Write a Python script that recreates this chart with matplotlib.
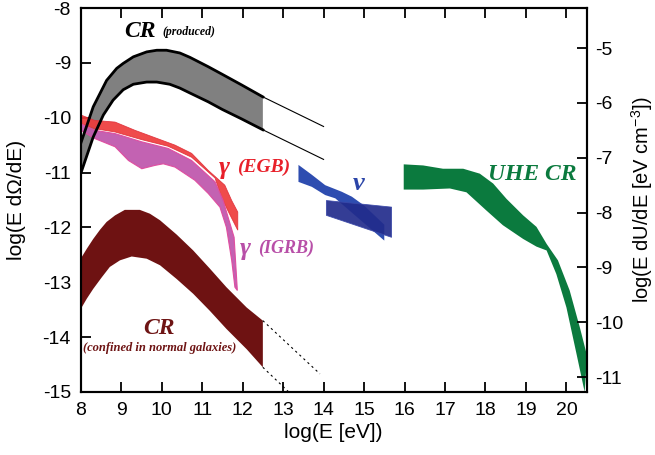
import numpy as np
import matplotlib
matplotlib.use("Agg")
import matplotlib.pyplot as plt

plt.rcParams['font.family'] = ['Liberation Sans', 'DejaVu Sans']
plt.rcParams['mathtext.fontset'] = 'custom'
plt.rcParams['mathtext.rm'] = 'Liberation Sans'
plt.rcParams['mathtext.it'] = 'Liberation Sans:italic'
plt.rcParams['axes.unicode_minus'] = False

# offset between left axis (log E dOmega/dE) and right axis (log E dU/dE)
RIGHT_OFFSET = 3.73

# CR produced (grey band)
cr_prod_up_x = [8.0, 8.31, 8.64, 8.89, 9.05, 9.30, 9.63, 9.88, 10.12, 10.45, 10.70, 11.15, 11.5, 11.97, 12.5]
cr_prod_up_y = [-10.47, -9.80, -9.32, -9.10, -9.01, -8.89, -8.80, -8.77, -8.77, -8.82, -8.90, -9.07, -9.21, -9.40, -9.62]
cr_prod_lo_x = [8.0, 8.31, 8.56, 8.80, 9.05, 9.30, 9.63, 9.88, 10.20, 10.45, 10.70, 11.15, 11.5, 11.97, 12.5]
cr_prod_lo_y = [-11.02, -10.35, -9.95, -9.68, -9.49, -9.39, -9.35, -9.35, -9.39, -9.46, -9.55, -9.71, -9.85, -10.02, -10.22]
cr_prod_ext_x = [12.5, 14.0]
cr_prod_ext_up = [-9.62, -10.16]
cr_prod_ext_lo = [-10.22, -10.76]

# gamma EGB (red band)
egb_up_x = [8.0, 8.35, 8.85, 9.34, 10.0, 10.33, 10.74, 11.15, 11.56, 11.73, 11.88]
egb_up_y = [-9.95, -10.05, -10.08, -10.23, -10.41, -10.50, -10.65, -10.96, -11.23, -11.51, -11.72]
egb_lo_x = [8.0, 8.35, 8.85, 9.51, 10.16, 10.74, 11.32, 11.48, 11.64, 11.88]
egb_lo_y = [-10.11, -10.20, -10.26, -10.40, -10.52, -10.72, -11.10, -11.45, -11.70, -12.05]

# gamma IGRB (magenta band)
igrb_up_x = [8.0, 8.35, 8.85, 9.51, 10.16, 10.74, 11.32, 11.52, 11.64, 11.79, 11.87]
igrb_up_y = [-10.11, -10.23, -10.29, -10.44, -10.56, -10.78, -11.17, -11.51, -11.81, -12.18, -13.15]
igrb_lo_x = [8.0, 8.35, 8.85, 9.18, 9.51, 9.83, 10.04, 10.33, 10.82, 11.15, 11.44, 11.60, 11.73, 11.81]
igrb_lo_y = [-10.23, -10.38, -10.53, -10.78, -10.93, -10.87, -10.84, -10.90, -11.14, -11.38, -11.63, -12.0, -12.60, -13.09]

# CR confined in normal galaxies (maroon band)
cr_conf_up_x = [8.0, 8.15, 8.31, 8.48, 8.64, 8.85, 9.09, 9.46, 9.71, 9.96, 10.37, 10.78, 11.19, 11.60, 12.10, 12.5]
cr_conf_up_y = [-12.57, -12.39, -12.21, -12.04, -11.90, -11.78, -11.68, -11.68, -11.75, -11.87, -12.13, -12.42, -12.75, -13.09, -13.46, -13.70]
cr_conf_lo_x = [8.0, 8.15, 8.31, 8.52, 8.72, 8.97, 9.26, 9.63, 9.96, 10.37, 10.78, 11.19, 11.60, 12.10, 12.5]
cr_conf_lo_y = [-13.49, -13.30, -13.12, -12.91, -12.72, -12.60, -12.53, -12.57, -12.69, -12.94, -13.21, -13.52, -13.85, -14.22, -14.55]
cr_conf_ext_up_x = [12.5, 13.91]
cr_conf_ext_up_y = [-13.70, -14.67]
cr_conf_ext_lo_x = [12.5, 13.14]
cr_conf_ext_lo_y = [-14.55, -15.0]

# neutrinos
nu_band_x = [13.38, 13.71, 14.04, 14.45, 14.70, 15.0, 15.5, 15.5, 14.29, 14.04, 13.71, 13.38]
nu_band_y = [-10.86, -11.04, -11.23, -11.35, -11.44, -11.60, -11.95, -12.24, -11.47, -11.41, -11.26, -11.17]
nu_box_x = [14.07, 15.68, 15.68, 14.07]
nu_box_y = [-11.51, -11.63, -12.18, -11.78]

# UHE CR (green band)
uhe_up_x = [15.98, 16.46, 16.95, 17.45, 17.86, 18.19, 18.52, 18.93, 19.26, 19.51, 19.79, 20.08, 20.33, 20.51]
uhe_up_y = [-10.85, -10.87, -10.93, -10.93, -11.02, -11.20, -11.48, -11.78, -11.99, -12.30, -12.60, -13.15, -13.82, -14.34]
uhe_lo_x = [15.98, 16.46, 17.12, 17.53, 18.02, 18.43, 18.93, 19.26, 19.51, 19.75, 20.0, 20.25, 20.45]
uhe_lo_y = [-11.31, -11.31, -11.29, -11.36, -11.69, -11.96, -12.21, -12.35, -12.42, -12.85, -13.46, -14.31, -15.0]

x_ticks = list(range(8, 21))
left_ticks = list(range(-15, -7))
right_ticks = list(range(-11, -4))


def band(ax, xu, yu, xl, yl, **kw):
    xs = np.concatenate([xu, xl[::-1]])
    ys = np.concatenate([yu, yl[::-1]])
    return ax.fill(xs, ys, **kw)


fig = plt.figure(figsize=(6.55, 4.55), dpi=100)
ax = fig.add_axes([0.1232, 0.1385, 0.7725, 0.8439])

band(ax, cr_prod_up_x, cr_prod_up_y, cr_prod_lo_x, cr_prod_lo_y,
     facecolor='#808080', edgecolor='none', zorder=1)
ax.plot(cr_prod_up_x, cr_prod_up_y, color='black', lw=2, zorder=4, solid_joinstyle='round')
ax.plot(cr_prod_lo_x, cr_prod_lo_y, color='black', lw=2, zorder=4, solid_joinstyle='round')
ax.plot(cr_prod_ext_x, cr_prod_ext_up, color='black', lw=0.8, zorder=4)
ax.plot(cr_prod_ext_x, cr_prod_ext_lo, color='black', lw=0.8, zorder=4)

band(ax, egb_up_x, egb_up_y, egb_lo_x, egb_lo_y,
     facecolor='#EE3B3B', edgecolor='#E0303A', lw=0.6, alpha=0.92, zorder=2)
band(ax, igrb_up_x, igrb_up_y, igrb_lo_x, igrb_lo_y,
     facecolor='#C05AAE', edgecolor='#E04A9E', lw=0.8, alpha=0.95, zorder=3)

band(ax, cr_conf_up_x, cr_conf_up_y, cr_conf_lo_x, cr_conf_lo_y,
     facecolor='#6E1212', edgecolor='none', zorder=2)
ax.plot(cr_conf_ext_up_x, cr_conf_ext_up_y, color='black', lw=0.8, ls=(0, (2, 3)), zorder=2)
ax.plot(cr_conf_ext_lo_x, cr_conf_ext_lo_y, color='black', lw=0.8, ls=(0, (2, 3)), zorder=2)

ax.fill(nu_band_x, nu_band_y, facecolor='#2E4DB0', edgecolor='none', zorder=2)
ax.fill(nu_box_x, nu_box_y, facecolor='#222C8C', edgecolor='#3A48A8', lw=0.6, alpha=0.92, zorder=3)

band(ax, uhe_up_x, uhe_up_y, uhe_lo_x, uhe_lo_y,
     facecolor='#0B7A3E', edgecolor='none', zorder=2)

lab = dict(family=['Liberation Serif', 'DejaVu Serif'], weight='bold', style='italic')
ax.text(9.46, -8.52, 'CR', color='black', fontsize=17, ha='center', va='baseline', **lab)
ax.text(10.03, -8.5, '(produced)', color='black', fontsize=8.5, ha='left', va='baseline', **lab)
ax.text(11.42, -11.02, 'γ', color='#E8202A', fontsize=19, ha='left', va='baseline', **lab)
ax.text(11.86, -10.98, '(EGB)', color='#E8202A', fontsize=14, ha='left', va='baseline', **lab)
ax.text(11.94, -12.5, 'γ', color='#B84FA8', fontsize=19, ha='left', va='baseline', **lab)
ax.text(12.38, -12.46, '(IGRB)', color='#B84FA8', fontsize=13, ha='left', va='baseline', **lab)
ax.text(14.87, -11.32, 'ν', color='#2B45A8', fontsize=19, ha='center', va='baseline', **lab)
ax.text(18.06, -11.14, 'UHE CR', color='#0B7A3E', fontsize=17, ha='left', va='baseline', **lab)
ax.text(9.94, -13.94, 'CR', color='#6E1414', fontsize=17, ha='center', va='baseline', **lab)
ax.text(9.94, -14.25, '(confined in normal galaxies)', color='#6E1414', fontsize=9,
        ha='center', va='baseline', **lab)

ax.set_xlim(8, 20.5)
ax.set_ylim(-15, -8)
ax.set_xticks(x_ticks)
ax.set_yticks(left_ticks)
ax.tick_params(axis='both', direction='in', length=7, width=1.3, labelsize=14, pad=7)
ax.tick_params(axis='x', top=True)
ax.set_xlabel('log(E [eV])', fontsize=15, labelpad=3)
for s in ax.spines.values():
    s.set_linewidth(1.5)

ax2 = ax.twinx()
ax2.set_ylim(-15 + RIGHT_OFFSET, -8 + RIGHT_OFFSET)
ax2.set_yticks(right_ticks)
ax2.tick_params(axis='y', direction='in', length=7, width=1.3, labelsize=14, pad=6)
for s in ax2.spines.values():
    s.set_linewidth(1.5)

fig.text(17 / 655, 0.56, 'log(E dΩ/dE)', fontsize=15, rotation=90, ha='center', va='center')
fig.text(642 / 655, 0.56, 'log(E dU/dE [eV cm$^{-3}$])', fontsize=14.5, rotation=90,
         ha='center', va='center')

fig.savefig('out.png', dpi=100)
